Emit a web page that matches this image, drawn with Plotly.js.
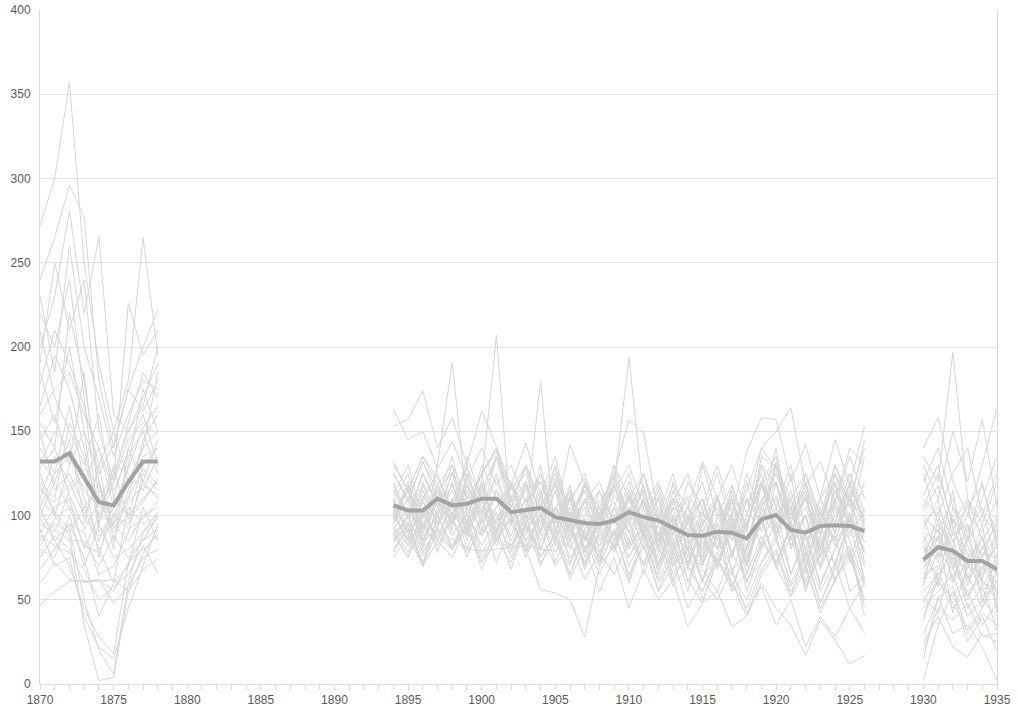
<!DOCTYPE html>
<html>
<head>
<meta charset="utf-8">
<script src="https://cdn.plot.ly/plotly-3.0.1.min.js"></script>
<style>html,body{margin:0;padding:0;background:#fff;}#chart{width:1018px;height:709px;}</style>
</head>
<body>
<div id="chart"></div>
<script>
// Years of each observed period
const years1 = [1870,1871,1872,1873,1874,1875,1876,1877,1878];
const years2 = [1894,1895,1896,1897,1898,1899,1900,1901,1902,1903,1904,1905,1906,1907,1908,1909,1910,1911,1912,1913,1914,1915,1916,1917,1918,1919,1920,1921,1922,1923,1924,1925,1926];
const years3 = [1930,1931,1932,1933,1934,1935];

// Average line (thick) for each period
const mean1 = [132,132,137,123,108,106,120,132,132];
const mean2 = [106,103,103,110,106,107,110,110,102,103,104.5,99,97,95.5,95,97,102,99,97,93,88.4,88,90.4,89.8,86.5,97.7,100.3,91.4,89.8,93.8,94.2,93.8,90.8];
const mean3 = [73.6,81.3,79,73,73,68];

// Individual series, period 1 (1870-1878)
const period1 = [
[272,300,357,250,190,150,180,265,195],
[240,265,296,277,180,140,175,200,222],
[200,230,281,220,265,160,150,170,190],
[190,250,210,240,150,120,226,195,210],
[230,185,260,200,170,135,160,180,175],
[178,210,190,165,130,150,120,140,185],
[155,140,220,180,120,95,130,175,150],
[210,170,150,130,160,110,140,120,145],
[165,195,175,140,100,125,150,165,200],
[145,160,130,185,110,90,100,130,140],
[140,125,165,120,140,115,135,150,125],
[130,150,140,110,85,105,110,145,160],
[120,110,155,135,95,130,125,115,135],
[110,135,120,100,120,80,140,160,130],
[125,100,130,150,90,100,95,120,110],
[100,120,105,95,130,85,115,140,150],
[95,90,115,125,75,110,100,110,120],
[105,85,95,90,65,70,90,125,115],
[90,105,110,80,100,95,85,100,105],
[85,95,90,105,80,60,105,95,100],
[80,75,100,70,95,75,80,90,98],
[100,92,85,85,70,88,75,85,92],
[75,88,80,60,62,55,72,80,88],
[68,80,95,75,40,60,70,105,85],
[60,72,62,61,62,48,58,75,80],
[47,55,61,61,61,62,55,68,74],
[92,70,75,40,22,15,45,70,95],
[98,85,70,45,28,18,72,85,100],
[110,100,88,35,2,4,55,78,90],
[118,102,92,50,20,6,60,90,102],
[88,82,78,68,50,58,65,82,66],
[135,120,145,98,88,95,110,128,118],
[150,115,125,105,115,100,118,135,140],
[160,175,185,160,140,105,128,152,165],
[185,155,200,150,125,142,175,162,180],
[220,200,240,170,95,120,155,185,170],
[105,125,135,115,105,120,145,155,148],
[115,108,118,128,118,92,108,118,112],
[128,140,112,92,108,128,98,108,122],
[82,98,105,82,78,100,92,98,108]
];

// Individual series, period 2 (1894-1926)
const period2 = [
[163,145,150,128,144,122,140,118,130,108,120,96,110,122,98,108,90,110,84,98,72,95,80,92,70,100,88,110,76,105,82,102,78],
[153,157,174,140,158,130,162,141,118,143,112,135,98,115,92,118,100,125,88,110,80,98,112,75,110,95,130,90,112,80,115,95,135],
[95,120,88,130,191,105,125,85,110,78,100,120,88,105,72,105,125,92,110,70,98,80,112,65,95,120,85,105,68,95,120,72,90],
[105,82,112,95,120,88,120,207,95,118,80,105,92,70,102,85,115,90,78,105,68,98,85,110,75,118,92,125,70,102,85,110,60],
[100,118,85,102,125,95,115,90,120,100,180,85,110,75,98,120,82,105,65,95,110,72,100,85,120,90,130,95,60,88,110,75,98],
[110,88,118,95,108,130,92,115,85,105,125,90,112,80,100,118,194,110,85,120,75,102,90,115,70,105,140,90,120,80,108,135,110],
[98,115,82,115,95,122,105,90,118,96,125,100,142,118,95,125,157,149,100,125,90,110,80,118,92,130,105,88,115,75,110,125,95],
[90,75,102,85,110,80,100,72,95,80,56,54,50,28,70,92,62,90,68,85,55,88,70,95,60,82,105,65,90,58,80,100,70],
[120,98,125,105,130,95,115,135,100,120,90,115,85,118,100,80,112,95,118,88,120,105,130,100,138,158,157,120,142,110,145,118,153],
[108,125,92,118,100,135,110,88,120,100,130,92,115,85,108,122,98,115,80,108,125,95,110,130,100,140,150,164,118,132,108,140,130],
[92,78,105,85,100,75,98,110,82,95,70,92,65,88,75,100,70,88,60,75,45,62,50,68,42,58,35,50,22,40,28,45,30],
[85,95,72,100,80,105,78,92,68,95,75,88,62,82,55,75,45,68,50,62,34,48,55,34,40,60,45,35,17,38,26,12,17],
[100,85,110,78,102,88,118,95,80,105,85,100,72,98,82,105,90,70,95,65,85,60,90,68,75,98,72,95,55,85,62,80,50],
[112,130,98,118,92,125,100,135,108,120,95,130,100,85,115,95,120,90,110,82,100,75,110,85,95,120,88,115,80,110,95,125,102],
[78,95,70,100,82,98,75,90,105,85,100,72,95,68,90,78,100,65,90,60,82,70,95,58,80,98,68,88,55,80,72,95,62],
[125,108,132,110,135,100,125,140,105,130,110,128,95,120,100,130,95,118,85,110,100,78,112,88,125,100,132,90,110,75,120,95,85],
[95,110,80,105,88,100,120,92,110,82,100,90,115,78,100,88,110,95,70,100,80,105,68,95,110,80,120,90,100,70,105,85,60],
[88,100,78,94,110,90,105,85,100,75,95,115,80,98,72,90,105,80,95,70,88,62,90,55,82,100,70,95,65,88,60,98,78],
[105,90,115,95,108,85,112,100,88,110,80,105,90,110,78,100,85,110,70,95,60,90,72,100,65,105,120,80,100,68,90,115,72],
[130,115,135,122,105,128,110,135,115,125,100,120,95,118,105,125,95,115,88,110,98,120,85,108,90,130,118,95,125,100,130,110,140],
[80,92,70,85,75,95,68,88,78,100,72,85,65,90,70,82,60,85,55,78,62,48,75,55,65,88,70,52,80,55,72,45,60],
[102,85,108,92,120,95,105,82,110,98,115,85,102,90,75,100,115,88,105,78,95,110,80,100,70,98,112,85,100,75,96,118,94],
[115,98,110,125,100,118,95,115,100,120,90,105,80,100,115,85,105,90,112,80,100,70,95,105,80,120,100,110,85,98,120,90,102],
[96,110,85,100,115,92,108,96,120,90,105,118,92,110,85,100,80,95,115,85,100,90,105,75,100,125,95,105,80,110,90,120,96],
[90,96,85,92,86,80,79,80,81,82,80,79,85,95,82,98,75,95,80,70,85,62,78,90,60,85,72,92,58,76,88,55,64],
[100,115,90,108,95,112,100,122,95,110,88,100,115,92,105,80,102,118,85,100,72,95,110,78,95,120,90,105,70,98,85,112,92],
[85,100,78,92,80,98,88,102,75,95,110,82,98,70,92,80,105,88,72,95,60,85,70,95,55,80,95,65,88,60,80,98,78],
[118,100,125,108,95,118,102,125,98,115,120,95,110,85,102,118,95,110,80,105,96,75,98,110,85,108,125,98,110,88,115,96,120],
[108,92,100,115,95,108,90,105,118,92,100,85,110,80,95,105,80,98,70,90,105,72,88,100,75,95,110,82,100,70,92,110,84],
[92,105,85,110,90,100,82,98,110,85,100,78,95,72,88,100,75,90,62,80,70,55,78,65,50,72,85,60,78,48,68,80,58],
[132,115,135,118,130,110,125,140,115,130,105,122,100,118,95,130,110,125,98,118,105,132,110,90,115,140,128,110,125,95,130,105,145],
[75,88,70,92,80,95,72,85,98,78,90,70,85,62,78,90,65,82,55,70,80,50,72,60,45,68,80,55,70,42,62,75,50],
[98,115,92,110,100,120,95,115,100,88,112,95,118,85,105,95,112,85,100,78,105,90,70,98,85,110,120,92,105,80,100,118,98],
[110,95,120,100,125,105,118,95,112,100,92,115,90,108,120,95,110,88,100,75,98,110,85,102,95,118,130,100,115,90,108,88,104],
[88,75,95,82,98,78,92,86,72,95,80,100,75,88,65,85,95,70,82,58,70,55,75,60,40,65,78,52,68,45,62,78,46],
[102,118,95,110,98,115,88,105,120,95,110,100,85,110,95,118,90,108,82,115,95,102,88,112,95,120,105,130,90,110,125,98,85],
[94,82,100,88,105,92,110,85,98,80,100,88,105,78,95,82,110,90,75,100,70,92,80,98,72,105,90,110,75,95,70,100,80],
[115,100,125,105,118,95,130,110,95,118,105,125,98,115,90,112,100,125,95,110,85,130,100,118,90,135,128,105,120,95,125,108,100],
[84,95,76,88,80,92,72,90,82,100,76,88,70,92,78,65,85,72,90,62,80,68,55,78,62,72,88,58,75,48,70,82,40],
[125,110,132,115,126,105,124,138,110,128,100,118,108,125,98,115,130,105,120,95,112,100,125,92,108,120,135,100,118,90,125,105,115]
];

// Individual series, period 3 (1930-1935)
const period3 = [
[140,158,120,100,130,164],[135,120,197,110,95,120],[130,110,150,120,157,105],[120,140,105,90,110,135],
[110,100,125,140,100,90],[105,125,95,110,85,100],[100,90,110,85,120,80],[95,105,85,100,90,110],
[90,85,100,75,80,95],[85,95,80,90,105,70],[80,75,92,70,65,85],[75,88,70,80,72,60],
[70,80,85,60,78,75],[65,70,60,72,55,65],[60,78,68,55,62,50],[55,65,75,50,70,55],
[50,60,52,65,45,62],[45,55,65,40,50,40],[40,62,45,55,35,48],[30,50,58,30,42,35],
[20,45,38,48,28,30],[2,35,55,25,40,20],[15,52,30,35,22,2],[25,40,22,16,30,25],
[102,118,88,95,75,88],[88,72,98,62,88,52],[78,92,62,88,58,72],[68,82,75,68,95,45],
[58,98,80,52,68,82],[48,68,90,78,52,58],[92,110,72,58,82,65],[82,58,105,82,62,92],
[72,102,68,95,48,78],[62,88,42,70,88,42],[98,76,115,62,75,98],[112,130,92,105,118,85],
[52,42,78,45,58,32],[38,66,48,32,45,68],[85,62,82,108,60,56],[125,95,60,85,100,125]
];

const thinColor = '#d6d6d6';
const meanColor = '#a3a3a3';
const traces = [];
function addThin(xs, rows){
  rows.forEach(r => traces.push({x: xs, y: r, type: 'scatter', mode: 'lines',
    line: {color: thinColor, width: 1}, hoverinfo: 'skip', showlegend: false}));
}
addThin(years1, period1);
addThin(years2, period2);
addThin(years3, period3);
[[years1, mean1],[years2, mean2],[years3, mean3]].forEach(([xs, ys]) => traces.push({
  x: xs, y: ys, type: 'scatter', mode: 'lines',
  line: {color: meanColor, width: 4, shape: 'linear'}, showlegend: false
}));

const layout = {
  width: 1018, height: 709,
  margin: {l: 40, r: 21, t: 10, b: 25},
  paper_bgcolor: '#ffffff', plot_bgcolor: '#ffffff',
  showlegend: false,
  font: {family: 'Liberation Sans, Arial, sans-serif', size: 12, color: '#595959'},
  xaxis: {
    range: [1870, 1935], tick0: 1870, dtick: 5,
    showgrid: false, zeroline: false,
    showline: true, linecolor: '#d9d9d9', linewidth: 1,
    ticks: 'outside', ticklen: 5, tickcolor: '#d9d9d9',
    minor: {dtick: 1, ticks: 'outside', ticklen: 5, tickcolor: '#d9d9d9', showgrid: false},
    tickfont: {size: 12, color: '#595959'}
  },
  yaxis: {
    range: [0, 400], dtick: 50,
    showgrid: true, gridcolor: '#e3e3e3', gridwidth: 1,
    zeroline: false,
    showline: true, mirror: true, linecolor: '#d9d9d9', linewidth: 1,
    ticks: '', ticklabelstandoff: 6,
    tickfont: {size: 12, color: '#595959'}
  }
};

Plotly.newPlot('chart', traces, layout, {displayModeBar: false, staticPlot: true});
</script>
</body>
</html>
